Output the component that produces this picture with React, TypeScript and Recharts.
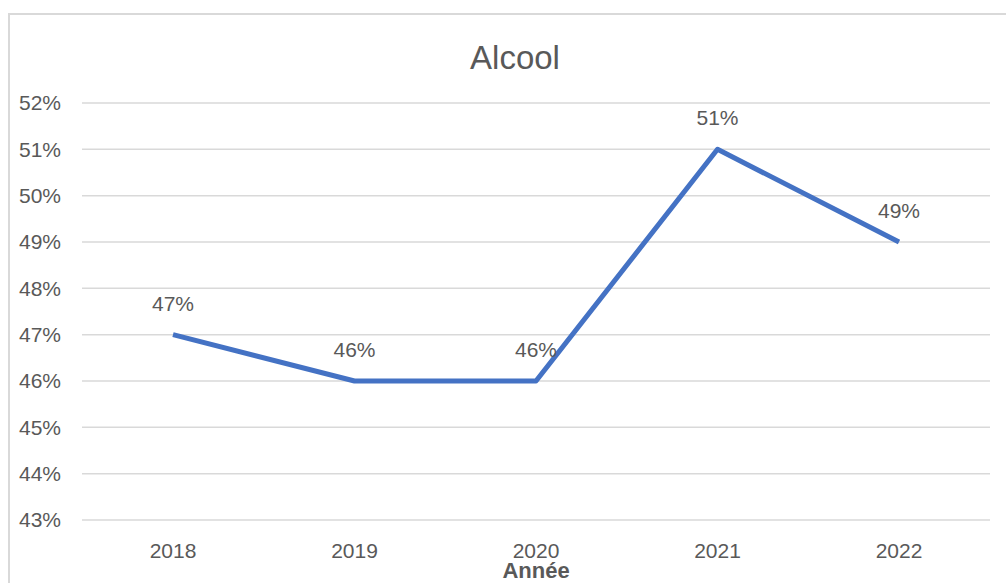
import { LineChart, Line, XAxis, YAxis, CartesianGrid, LabelList } from "recharts";

const years = ["2018", "2019", "2020", "2021", "2022"];
const alcool = [47, 46, 46, 51, 49];
const yTicks = [43, 44, 45, 46, 47, 48, 49, 50, 51, 52];

const data = years.map((year, i) => ({ year, value: alcool[i] }));

const font = "'Liberation Sans', Arial, sans-serif";
const grey = "#595959";

export default function App() {
  return (
    <div
      style={{
        position: "absolute",
        left: 0,
        top: 0,
        width: 1006,
        height: 583,
        overflow: "hidden",
        background: "#fff",
        fontFamily: font,
      }}
    >
      {/* chart frame, runs off the right and bottom edges */}
      <div
        style={{
          position: "absolute",
          left: 8,
          top: 13,
          width: 1100,
          height: 700,
          border: "2px solid #d9d9d9",
          boxSizing: "border-box",
        }}
      />
      <div
        style={{
          position: "absolute",
          left: 0,
          width: 1030,
          top: 38,
          textAlign: "center",
          fontSize: 33,
          lineHeight: "40px",
          color: grey,
        }}
      >
        Alcool
      </div>
      <div style={{ position: "absolute", left: 0, top: 0 }}>
        <LineChart
          width={1006}
          height={583}
          data={data}
          margin={{ top: 103, right: 16, left: 0, bottom: 23 }}
          style={{ fontFamily: font }}
        >
          <CartesianGrid vertical={false} stroke="#d9d9d9" strokeWidth={1.5} />
          <XAxis
            dataKey="year"
            height={40}
            padding={{ left: 91, right: 91 }}
            axisLine={false}
            tickLine={false}
            tickSize={0}
            tickMargin={23}
            tick={{ fill: grey, fontSize: 21 }}
            label={{
              value: "Année",
              position: "insideBottom",
              offset: -18,
              fill: grey,
              fontSize: 22,
              fontWeight: 700,
            }}
          />
          <YAxis
            width={82}
            domain={[43, 52]}
            ticks={yTicks}
            interval={0}
            axisLine={false}
            tickLine={false}
            tickSize={0}
            tickMargin={21}
            tick={{ fill: grey, fontSize: 21 }}
            tickFormatter={(v) => `${v}%`}
          />
          <Line
            type="linear"
            dataKey="value"
            stroke="#4472C4"
            strokeWidth={5}
            strokeLinejoin="round"
            dot={false}
            isAnimationActive={false}
          >
            <LabelList
              dataKey="value"
              position="top"
              offset={24}
              fill={grey}
              fontSize={21}
              formatter={(v) => `${v}%`}
            />
          </Line>
        </LineChart>
      </div>
    </div>
  );
}
